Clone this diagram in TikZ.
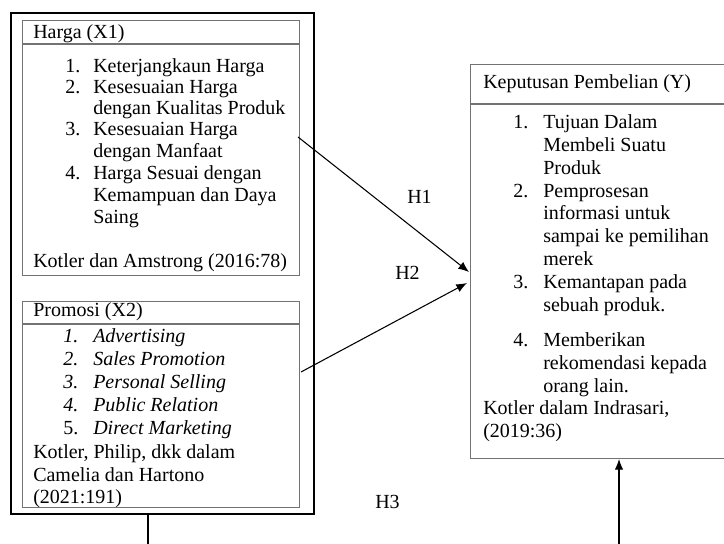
\documentclass[tikz,border=0pt]{standalone}
\usepackage{fontspec}
\setmainfont{Liberation Serif}
\usetikzlibrary{arrows.meta}
\begin{document}
\begin{tikzpicture}[x=0.75pt,y=-0.75pt,
  txt/.style={anchor=base west,inner sep=0pt,font=\fontsize{15}{18}\selectfont},
  itxt/.style={txt,font=\fontsize{15}{18}\selectfont\itshape},
  graybox/.style={draw=black!55,line width=0.8pt,inner sep=0pt,anchor=north west},
  outerbox/.style={draw=black,line width=1.2pt,inner sep=0pt,anchor=north west},
  conn/.style={draw=black,line width=0.8pt},
  arr/.style={conn,-{Latex[length=8pt,width=6.5pt]}}]
\useasboundingbox (0,0) rectangle (724,543);
% outer frame
\node[outerbox,minimum width=303*0.75pt,minimum height=501*0.75pt] (outer) at (10,12) {};
% Harga box
\node[graybox,minimum width=277*0.75pt,minimum height=255*0.75pt] (harga) at (22,20) {};
\coordinate (hargaHL) at (22,44);
\coordinate (hargaHR) at (299,44);
\draw[draw=black!55,line width=0.8pt] (hargaHL) -- (hargaHR);
\node[txt] (h0) at (33,38) {Harga (X1)};
\node[txt] (h1n) at (65,72) {1.};
\node[txt] (h1) at (93,72) {Keterjangkaun Harga};
\node[txt] (h2n) at (65,93) {2.};
\node[txt] (h2) at (93,93) {Kesesuaian Harga};
\node[txt] (h2b) at (93,114) {dengan Kualitas Produk};
\node[txt] (h3n) at (65,135) {3.};
\node[txt] (h3) at (93,135) {Kesesuaian Harga};
\node[txt] (h3b) at (93,157) {dengan Manfaat};
\node[txt] (h4n) at (65,179) {4.};
\node[txt] (h4) at (93,179) {Harga Sesuai dengan};
\node[txt] (h4b) at (93,201) {Kemampuan dan Daya};
\node[txt] (h4c) at (93,223) {Saing};
\node[txt] (hsrc) at (33,267) {Kotler dan Amstrong (2016:78)};
% Promosi box
\node[graybox,minimum width=277*0.75pt,minimum height=206*0.75pt] (promosi) at (22,301) {};
\coordinate (promHL) at (22,324);
\coordinate (promHR) at (299,324);
\draw[draw=black!55,line width=0.8pt] (promHL) -- (promHR);
\node[txt] (p0) at (33,316) {Promosi (X2)};
\node[itxt] (p1n) at (63,342) {1.};
\node[itxt] (p1) at (93,342) {Advertising};
\node[itxt] (p2n) at (63,365) {2.};
\node[itxt] (p2) at (93,365) {Sales Promotion};
\node[itxt] (p3n) at (63,388) {3.};
\node[itxt] (p3) at (93,388) {Personal Selling};
\node[itxt] (p4n) at (63,411) {4.};
\node[itxt] (p4) at (93,411) {Public Relation};
\node[txt] (p5n) at (63,434) {5.};
\node[itxt] (p5) at (93,434) {Direct Marketing};
\node[txt] (ps1) at (33,458) {Kotler, Philip, dkk dalam};
\node[txt] (ps2) at (33,481) {Camelia dan Hartono};
\node[txt] (ps3) at (33,503) {(2021:191)};
% Keputusan box
\node[graybox,minimum width=260*0.75pt,minimum height=394*0.75pt] (kep) at (470,64) {};
\coordinate (kepHL) at (470,104);
\coordinate (kepHR) at (730,104);
\draw[draw=black!55,line width=0.8pt] (kepHL) -- (kepHR);
\node[txt] (k0) at (483,88) {Keputusan Pembelian (Y)};
\node[txt] (k1n) at (513,128) {1.};
\node[txt] (k1) at (543,128) {Tujuan Dalam};
\node[txt] (k1b) at (543,151) {Membeli Suatu};
\node[txt] (k1c) at (543,174) {Produk};
\node[txt] (k2n) at (513,197) {2.};
\node[txt] (k2) at (543,197) {Pemprosesan};
\node[txt] (k2b) at (543,219) {informasi untuk};
\node[txt] (k2c) at (543,242) {sampai ke pemilihan};
\node[txt] (k2d) at (543,265) {merek};
\node[txt] (k3n) at (513,288) {3.};
\node[txt] (k3) at (543,288) {Kemantapan pada};
\node[txt] (k3b) at (543,311) {sebuah produk.};
\node[txt] (k4n) at (513,346) {4.};
\node[txt] (k4) at (543,346) {Memberikan};
\node[txt] (k4b) at (543,369) {rekomendasi kepada};
\node[txt] (k4c) at (543,392) {orang lain.};
\node[txt] (ks1) at (483,414) {Kotler dalam Indrasari,};
\node[txt] (ks2) at (483,437) {(2019:36)};
% hypothesis labels
\node[txt] (H1) at (407,203) {H1};
\node[txt] (H2) at (395,279) {H2};
\node[txt] (H3) at (375,508) {H3};
% connectors
\coordinate (a1s) at (298,137);
\coordinate (a1e) at (469,272);
\coordinate (a2s) at (301,372);
\coordinate (a2e) at (467,283);
\draw[arr] (a1s) -- (a1e);
\draw[arr] (a2s) -- (a2e);
\coordinate (outbot) at (148,513);
\coordinate (outdown) at (148,545);
\draw[conn] (outbot) -- (outdown);
\coordinate (kepup) at (619,545);
\draw[arr] (kepup) -- (kep.south -| kepup);
\end{tikzpicture}
\end{document}
